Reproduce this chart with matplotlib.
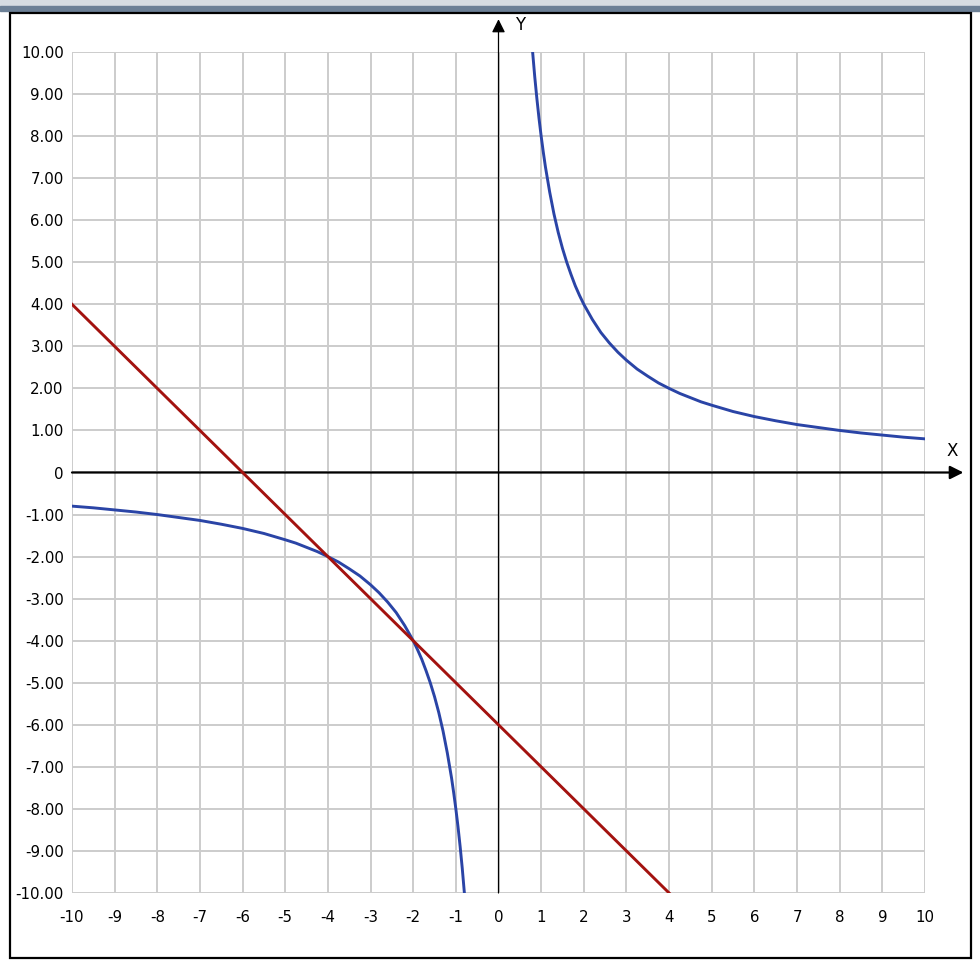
import numpy as np
import matplotlib.pyplot as plt
from matplotlib.patches import Rectangle

# hyperbola, left branch
x_left = [-10, -9.5, -9, -8.5, -8, -7.5, -7, -6.5, -6, -5.5, -5, -4.75, -4.5, -4.25,
          -4, -3.75, -3.5, -3.25, -3, -2.8, -2.6, -2.4, -2.2, -2, -1.9, -1.8,
          -1.7, -1.6, -1.5, -1.4, -1.3, -1.2, -1.1, -1.05, -1, -0.95, -0.9,
          -0.85, -0.8]
y_left = [-0.80, -0.84, -0.89, -0.94, -1.00, -1.07, -1.14, -1.23, -1.33, -1.45,
          -1.60, -1.68, -1.78, -1.88, -2.00, -2.13, -2.29, -2.46, -2.67, -2.86,
          -3.08, -3.33, -3.64, -4.00, -4.21, -4.44, -4.71, -5.00, -5.33, -5.71,
          -6.15, -6.67, -7.27, -7.62, -8.00, -8.42, -8.89, -9.41, -10.00]

# hyperbola, right branch
x_right = [0.8, 0.85, 0.9, 0.95, 1, 1.05, 1.1, 1.2, 1.3, 1.4, 1.5, 1.6, 1.7,
           1.8, 1.9, 2, 2.2, 2.4, 2.6, 2.8, 3, 3.25, 3.5, 3.75, 4, 4.25, 4.5,
           4.75, 5, 5.5, 6, 6.5, 7, 7.5, 8, 8.5, 9, 9.5, 10]
y_right = [10.00, 9.41, 8.89, 8.42, 8.00, 7.62, 7.27, 6.67, 6.15, 5.71, 5.33,
           5.00, 4.71, 4.44, 4.21, 4.00, 3.64, 3.33, 3.08, 2.86, 2.67, 2.46,
           2.29, 2.13, 2.00, 1.88, 1.78, 1.68, 1.60, 1.45, 1.33, 1.23, 1.14,
           1.07, 1.00, 0.94, 0.89, 0.84, 0.80]

# straight line
x_line = [-10, 4]
y_line = [4, -10]

x_ticks = list(range(-10, 11))
y_ticks = list(range(-10, 11))
y_labels = ["0" if v == 0 else "%.2f" % v for v in y_ticks]

fig = plt.figure(figsize=(9.8, 9.71), dpi=100)

# window strip at top and frame
fig.patches.append(Rectangle((0, 1 - 6 / 971), 1, 6 / 971, transform=fig.transFigure,
                             color="#d6dce2", zorder=0))
fig.patches.append(Rectangle((0, 1 - 11 / 971), 1, 5 / 971, transform=fig.transFigure,
                             color="#6c8096", zorder=0))
fig.patches.append(Rectangle((9.5 / 980, 1 - 958 / 971), 961 / 980, 945 / 971,
                             transform=fig.transFigure, fill=False,
                             edgecolor="black", lw=1.6, zorder=1))

ax = fig.add_axes([72 / 980, 1 - 893 / 971, 853 / 980, 841 / 971])
ax.set_xlim(-10, 10)
ax.set_ylim(-10, 10)
for s in ax.spines.values():
    s.set_visible(False)

ax.set_xticks(x_ticks)
ax.set_xticklabels([str(v) for v in x_ticks])
ax.set_yticks(y_ticks)
ax.set_yticklabels(y_labels)
ax.tick_params(length=0, labelsize=10.8, colors="black")
ax.tick_params(axis="x", pad=12)
ax.tick_params(axis="y", pad=6)
ax.grid(True, color="#cccccc", lw=1.4)
ax.set_axisbelow(True)

# axes with arrows
ax.annotate("", xy=(10.9, 0), xytext=(-10, 0), annotation_clip=False,
            arrowprops=dict(arrowstyle="-|>", color="black", lw=1.6,
                            mutation_scale=20, shrinkA=0, shrinkB=0))
ax.annotate("", xy=(0, 10.78), xytext=(0, -10), annotation_clip=False,
            arrowprops=dict(arrowstyle="-|>", color="black", lw=0.9,
                            mutation_scale=20, shrinkA=0, shrinkB=0))
ax.text(10.63, 0.52, "X", fontsize=12, ha="center", va="center")
ax.text(0.5, 10.64, "Y", fontsize=12, ha="center", va="center")

ax.plot(x_left, y_left, color="#2a44a6", lw=2.1, zorder=3)
ax.plot(x_right, y_right, color="#2a44a6", lw=2.1, zorder=3)
ax.plot(x_line, y_line, color="#a3120f", lw=2.1, zorder=4)

fig.savefig("out.png", dpi=100)
